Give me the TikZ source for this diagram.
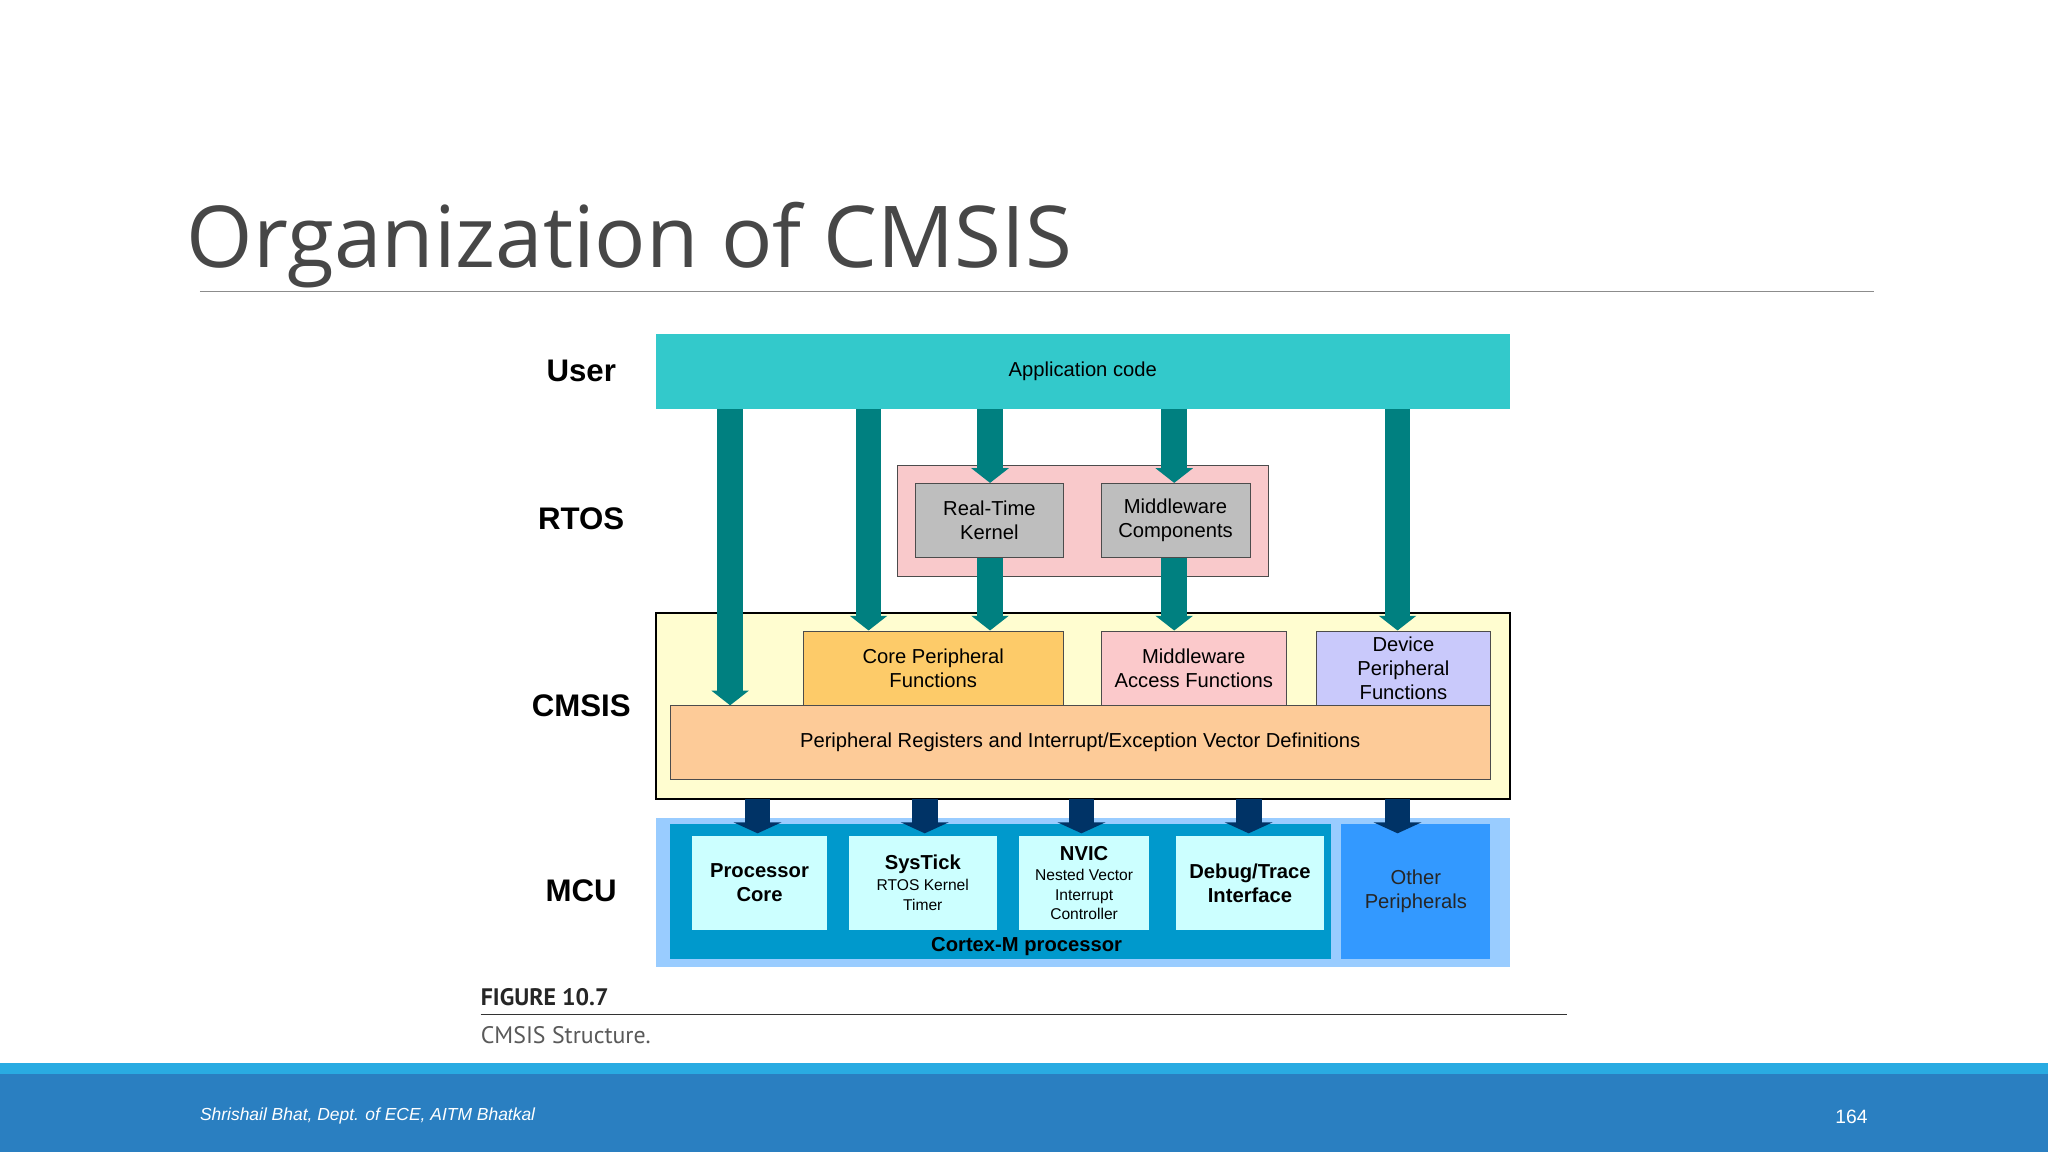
\documentclass[tikz,border=0pt]{standalone}
\usepackage{fontspec}
\setmainfont{Liberation Sans}
\newfontfamily\titlefont{Open Sans}
\newfontfamily\capfont{PT Sans}
\usetikzlibrary{arrows.meta}
\definecolor{appc}{HTML}{33C9CB}
\definecolor{teal2}{HTML}{008080}
\definecolor{navy}{HTML}{003366}
\definecolor{rtosc}{HTML}{F9C9CB}
\definecolor{grayb}{HTML}{BEBEBE}
\definecolor{cmsisc}{HTML}{FFFDD0}
\definecolor{corec}{HTML}{FDCB69}
\definecolor{mawc}{HTML}{FBC9CB}
\definecolor{devc}{HTML}{C9C9FB}
\definecolor{regc}{HTML}{FDCB98}
\definecolor{mcuc}{HTML}{99CCFF}
\definecolor{cortc}{HTML}{0099CC}
\definecolor{othc}{HTML}{3399FF}
\definecolor{cyanb}{HTML}{CCFFFF}
\definecolor{strip}{HTML}{29ABE2}
\definecolor{barc}{HTML}{2A7FC1}
\begin{document}
\begin{tikzpicture}[x=0.05cm,y=-0.05cm,
 box/.style={draw=black!70,line width=0.8pt,align=center,font=\fontsize{22}{26}\selectfont},
 lab/.style={font=\bfseries\fontsize{34}{40}\selectfont},
 inner/.style={fill=cyanb,align=center,font=\bfseries\fontsize{22}{26}\selectfont},
 tarr/.style={-{Triangle[width=40pt,length=16pt]},line width=28pt,draw=teal2},
 narr/.style={-{Triangle[width=52pt,length=12pt]},line width=28pt,draw=navy}]
\useasboundingbox (0,0) rectangle (1568,882);
\fill[white] (0,0) rectangle (1568,882);
\node[anchor=base west,font=\titlefont\fontsize{93}{100}\selectfont,text=black!72,inner sep=0] (title) at (143,205) {Organization of CMSIS};
\draw[black!45,line width=1pt] (153,223) -- (1435,223);
% labels
\node[lab] (lu) at (445,284) {User};
\node[lab] (lr) at (445,397) {RTOS};
\node[lab] (lc) at (445,540) {CMSIS};
\node[lab] (lm) at (445,682) {MCU};
% boxes
\fill[appc] (502,256) rectangle (1156,313);
\node[font=\fontsize{22}{26}\selectfont] (appt) at (829,284.5) {Application code};
\draw[black!70,fill=rtosc,line width=0.8pt] (687,356) rectangle (971,441);
\node[box,fill=grayb,minimum width=113*1.4226pt,minimum height=57*1.4226pt] (rtk) at (757.5,398.5) {Real-Time\\Kernel};
\node[box,fill=grayb,minimum width=114*1.4226pt,minimum height=57*1.4226pt] (mwc) at (900,398.5) {Middleware\\Components};
\draw[black,fill=cmsisc,line width=2pt] (502,469) rectangle (1156,612);
\node[box,fill=corec,minimum width=199*1.4226pt,minimum height=57*1.4226pt] (cpf) at (714.5,511.5) {Core Peripheral\\Functions};
\node[box,fill=mawc,minimum width=142*1.4226pt,minimum height=57*1.4226pt] (maf) at (914,511.5) {Middleware\\Access Functions};
\node[box,fill=devc,minimum width=133*1.4226pt,minimum height=57*1.4226pt,inner sep=0pt] (dpf) at (1074.5,511.5) {Device\\Peripheral\\Functions};
\node[box,fill=regc,minimum width=628*1.4226pt,minimum height=57*1.4226pt] (reg) at (827,568.5) {Peripheral Registers and Interrupt/Exception Vector Definitions};
% MCU
\fill[mcuc] (502,626) rectangle (1156,740);
\fill[cortc] (513,631) rectangle (1019,734);
\node[fill=othc,minimum width=114*1.4226pt,minimum height=103*1.4226pt,align=center,text=black!85,font=\fontsize{22}{26}\selectfont] (oth) at (1084,682.5) {Other\\Peripherals};
\node[inner,minimum width=103*1.4226pt,minimum height=72*1.4226pt] (pc) at (581.5,676) {Processor\\Core};
\node[inner,minimum width=113*1.4226pt,minimum height=72*1.4226pt] (st) at (706.5,676) {SysTick\\[-4pt]{\mdseries\fontsize{17}{20}\selectfont RTOS Kernel}\\[-4pt]{\mdseries\fontsize{17}{20}\selectfont Timer}};
\node[inner,minimum width=100*1.4226pt,minimum height=72*1.4226pt,inner sep=1pt] (nv) at (830,676) {NVIC\\[-4pt]{\mdseries\fontsize{17}{20}\selectfont Nested Vector}\\[-5pt]{\mdseries\fontsize{17}{20}\selectfont Interrupt}\\[-5pt]{\mdseries\fontsize{17}{20}\selectfont Controller}};
\node[inner,minimum width=114*1.4226pt,minimum height=72*1.4226pt] (dbg) at (957,676) {Debug/Trace\\Interface};
\node[font=\bfseries\fontsize{22}{26}\selectfont] (cm) at (786,725) {Cortex-M processor};
% teal arrows
\coordinate (a1) at (559,313); \coordinate (b1) at (559,540);
\coordinate (a2) at (665,313); \coordinate (a5) at (1070,313);
\coordinate (a3) at (758,313); \coordinate (a4) at (899,313);
\draw[tarr] (a1) -- (b1);
\draw[tarr] (a2) -- (a2 |- cpf.north);
\draw[tarr] (a3) -- (a3 |- rtk.north);
\draw[tarr] (a4) -- (a4 |- mwc.north);
\draw[tarr] (a5) -- (a5 |- dpf.north);
\draw[tarr] (a3 |- rtk.south) -- (a3 |- cpf.north);
\draw[tarr] (a4 |- mwc.south) -- (a4 |- maf.north);
% navy arrows
\foreach \x in {580,708,828,956,1070}{
 \draw[narr] (\x,612) -- (\x,638);
}
% caption
\node[anchor=base west,font=\capfont\bfseries\fontsize{26}{30}\selectfont,inner sep=0,text=black!85] (fig) at (368,770) {FIGURE 10.7};
\draw[black!80,line width=1pt] (368,777) -- (1200,777);
\node[anchor=base west,font=\capfont\fontsize{26}{30}\selectfont,inner sep=0,text=black!65] (cap) at (368,799) {CMSIS Structure.};
% footer
\fill[strip] (0,814) rectangle (1568,822);
\fill[barc] (0,822) rectangle (1568,882);
\node[anchor=base west,font=\itshape\fontsize{19}{22}\selectfont,text=white,inner sep=0] (ft) at (153,858) {Shrishail Bhat, Dept. of ECE, AITM Bhatkal};
\node[anchor=base east,font=\fontsize{21}{24}\selectfont,text=white,inner sep=0] (pg) at (1430,860) {164};
\end{tikzpicture}
\end{document}
